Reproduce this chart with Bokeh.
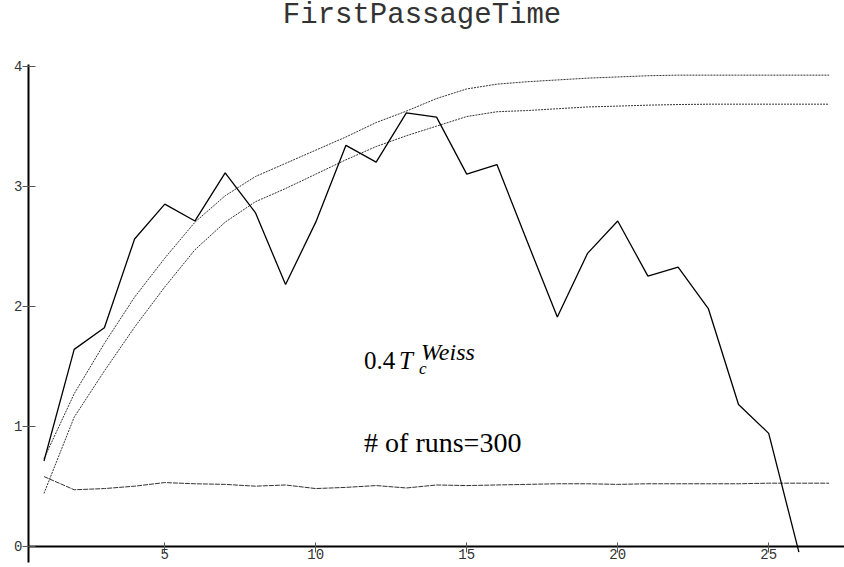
from bokeh.plotting import figure
from bokeh.models import Range1d, FixedTicker, Label
from bokeh.embed import file_html
from bokeh.resources import INLINE

# ---- data ----
steps = list(range(1, 28))
fpt_sim = [0.71, 1.64, 1.82, 2.56, 2.85, 2.71, 3.11, 2.78, 2.18, 2.70, 3.34, 3.20, 3.61,
           3.575, 3.10, 3.18, 2.54, 1.91, 2.44, 2.71, 2.25, 2.325, 1.98, 1.18, 0.94, -0.05]
fpt_upper = [0.73, 1.27, 1.69, 2.075, 2.40, 2.70, 2.92, 3.08, 3.19, 3.30, 3.41, 3.53, 3.625,
             3.73, 3.81, 3.85, 3.87, 3.885, 3.90, 3.91, 3.92, 3.925, 3.925, 3.925, 3.925, 3.925, 3.925]
fpt_lower = [0.44, 1.075, 1.46, 1.825, 2.16, 2.47, 2.70, 2.87, 2.98, 3.10, 3.22, 3.33, 3.42,
             3.50, 3.58, 3.62, 3.63, 3.645, 3.66, 3.667, 3.675, 3.68, 3.683, 3.683, 3.683, 3.683, 3.683]
fpt_flat = [0.58, 0.47, 0.48, 0.50, 0.53, 0.52, 0.515, 0.50, 0.51, 0.48, 0.49, 0.505, 0.485,
            0.51, 0.505, 0.51, 0.515, 0.52, 0.52, 0.515, 0.52, 0.52, 0.52, 0.52, 0.525, 0.525, 0.525]
x_ticks = [5, 10, 15, 20, 25]
y_ticks = [0, 1, 2, 3, 4]
title_text = "FirstPassageTime"
temp_text = ("0.4", "T", "c", "Weiss")
runs_text = "# of runs=300"

y_axis_bounds = (-0.136, 4.014)
p = figure(width=844, height=567, output_backend="svg", toolbar_location=None,
           x_range=Range1d(0.487, 27.51), y_range=Range1d(-0.136, 4.547),
           min_border_left=28, min_border_right=0, min_border_bottom=5, min_border_top=0)
p.outline_line_color = None
p.grid.visible = False
p.background_fill_color = "white"
p.border_fill_color = "white"

# axes
p.xaxis.fixed_location = 0
for ax in (p.xaxis[0], p.yaxis[0]):
    ax.axis_line_width = 2
    ax.axis_line_color = "black"
    ax.major_tick_line_color = "#555555"
    ax.major_tick_line_width = 1
    ax.minor_tick_line_color = None
    ax.major_label_text_font = "Liberation Mono"
    ax.major_label_text_font_size = "14px"
    ax.major_label_text_color = "#333333"
p.yaxis.bounds = y_axis_bounds
p.xaxis.ticker = FixedTicker(ticks=x_ticks)
p.yaxis.ticker = FixedTicker(ticks=y_ticks)
p.xaxis.major_tick_in = 4
p.xaxis.major_tick_out = 6
p.xaxis.major_label_standoff = -3
p.yaxis.major_tick_in = 7
p.yaxis.major_tick_out = 6
p.yaxis.major_label_standoff = 0

# lines
p.line(steps, fpt_upper, line_color="#333333", line_width=1, line_dash="2 1")
p.line(steps, fpt_lower, line_color="#333333", line_width=1, line_dash="2 1")
p.line(steps, fpt_flat, line_color="#333333", line_width=1, line_dash="5 1")
p.line(steps[:len(fpt_sim)], fpt_sim, line_color="black", line_width=1.3)

# title
p.add_layout(Label(x=13.52, y=4.425, text=title_text, text_font="Liberation Mono",
                   text_font_size="29px", text_color="#333333", text_align="center",
                   text_baseline="alphabetic"))

# annotations
serif = "Liberation Serif"
ax0, ay0 = 11.6, 1.545
p.add_layout(Label(x=ax0, y=ay0, text=temp_text[0], text_font=serif, text_font_size="25px",
                   text_color="black", text_baseline="alphabetic"))
p.add_layout(Label(x=ax0, y=ay0, x_offset=35, text=temp_text[1], text_font=serif,
                   text_font_size="25px", text_font_style="italic", text_color="black",
                   text_baseline="alphabetic"))
p.add_layout(Label(x=ax0, y=ay0, x_offset=55, y_offset=-8, text=temp_text[2], text_font=serif,
                   text_font_size="17px", text_font_style="italic", text_color="black",
                   text_baseline="alphabetic"))
p.add_layout(Label(x=ax0, y=ay0, x_offset=57, y_offset=9, text=temp_text[3], text_font=serif,
                   text_font_size="24px", text_font_style="italic", text_color="black",
                   text_baseline="alphabetic"))
p.add_layout(Label(x=ax0, y=0.864, text=runs_text, text_font=serif, text_font_size="28px",
                   text_color="black", text_baseline="alphabetic"))

open("out.html", "w").write(file_html(p, INLINE))
